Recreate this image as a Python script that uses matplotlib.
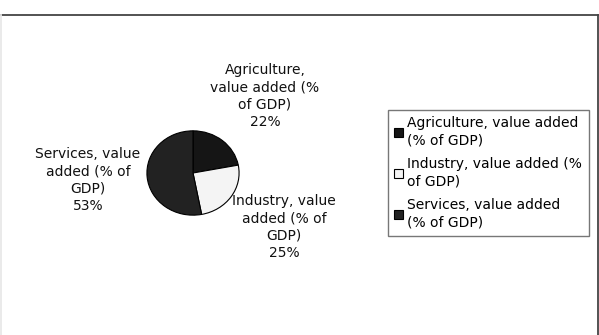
import matplotlib
matplotlib.use('Agg')
import matplotlib.pyplot as plt
from matplotlib.lines import Line2D

# data
sectors = ['Agriculture, value added (% of GDP)',
           'Industry, value added (% of GDP)',
           'Services, value added (% of GDP)']
shares = [22, 25, 53]
pie_labels = ['Agriculture,\nvalue added (%\nof GDP)',
              'Industry, value\nadded (% of\nGDP)',
              'Services, value\nadded (% of\nGDP)']
legend_labels = ['Agriculture, value added\n(% of GDP)',
                 'Industry, value added (%\nof GDP)',
                 'Services, value added\n(% of GDP)']
colors = ['#151515', '#f4f4f4', '#222222']

fig = plt.figure(figsize=(5.99, 3.35), dpi=100)

# outer chart frame (top + right dark, left faint)
top = 1 - 15/335
fig.add_artist(Line2D([0, 0.998], [top, top], transform=fig.transFigure,
                      color='#444444', linewidth=1.3))
fig.add_artist(Line2D([0.998, 0.998], [0, top], transform=fig.transFigure,
                      color='#444444', linewidth=1.3))
fig.add_artist(Line2D([0.001, 0.001], [0, top], transform=fig.transFigure,
                      color='#e8e8e8', linewidth=1.3))

ax = fig.add_axes([146/599, 119/335, 94/599, 86/335])
wedges, _ = ax.pie(shares, colors=colors, startangle=90, counterclock=False,
                   wedgeprops=dict(edgecolor='black', linewidth=0.8))
ax.set_aspect('auto')
ax.set_xlim(-1.02, 1.02)
ax.set_ylim(-1.02, 1.02)
ax.axis('off')

# data labels
label_pos = [(265/599, 0.713), (284/599, 0.323), (88/599, 0.463)]
for lab, val, (x, y) in zip(pie_labels, shares, label_pos):
    fig.text(x, y, lab + '\n' + str(val) + '%', ha='center', va='center',
             fontsize=10, color='#111111', linespacing=1.3)

leg = fig.legend(wedges, legend_labels, loc='upper left',
                 bbox_to_anchor=(388/599, 1 - 110/335),
                 fontsize=10, frameon=True, fancybox=False,
                 edgecolor='#555555', handlelength=0.65, handleheight=0.65,
                 handletextpad=0.3, labelspacing=0.7, borderpad=0.45,
                 borderaxespad=0)
leg.get_frame().set_linewidth(1.0)
for t in leg.get_texts():
    t.set_linespacing(1.3)

fig.savefig('out.png', dpi=100)
